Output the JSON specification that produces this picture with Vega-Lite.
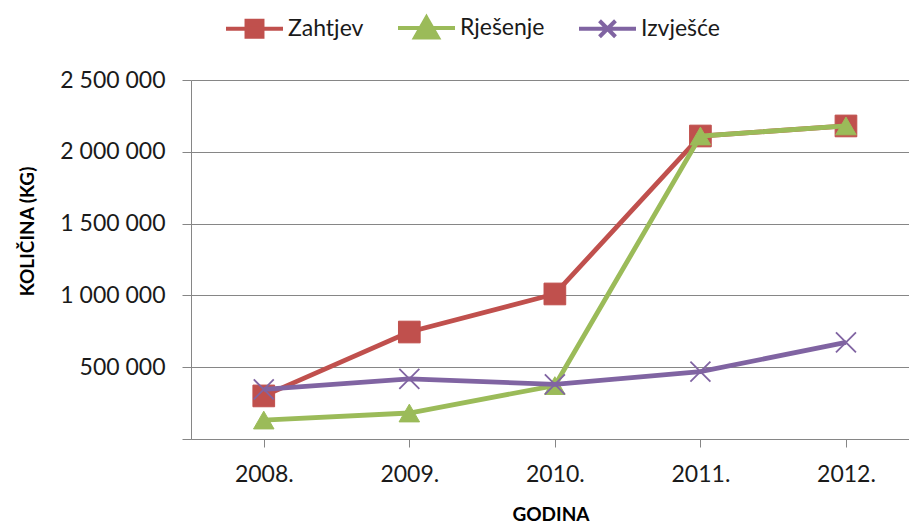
{
  "$schema": "https://vega.github.io/schema/vega-lite/v6.json",
  "width": 719,
  "height": 359,
  "autosize": "none",
  "padding": {"left": 191, "top": 80, "right": 0, "bottom": 87},
  "background": "white",
  "config": {
    "view": {"stroke": null},
    "font": "Lato",
    "axis": {
      "domainColor": "#868686",
      "tickColor": "#868686",
      "gridColor": "#868686",
      "labelColor": "#1a1a1a",
      "titleColor": "#000000",
      "labelFont": "Lato",
      "titleFont": "Lato",
      "labelFontSize": 23,
      "titleFontSize": 19,
      "titleFontWeight": "bold"
    }
  },
  "data": {
    "values": [
      {"year": 2008, "series": "Zahtjev", "value": 300000},
      {"year": 2009, "series": "Zahtjev", "value": 745000},
      {"year": 2010, "series": "Zahtjev", "value": 1010000},
      {"year": 2011, "series": "Zahtjev", "value": 2110000},
      {"year": 2012, "series": "Zahtjev", "value": 2180000},
      {"year": 2008, "series": "Rješenje", "value": 132000},
      {"year": 2009, "series": "Rješenje", "value": 181000},
      {"year": 2010, "series": "Rješenje", "value": 372000},
      {"year": 2011, "series": "Rješenje", "value": 2110000},
      {"year": 2012, "series": "Rješenje", "value": 2180000},
      {"year": 2008, "series": "Izvješće", "value": 345000},
      {"year": 2009, "series": "Izvješće", "value": 418000},
      {"year": 2010, "series": "Izvješće", "value": 381000},
      {"year": 2011, "series": "Izvješće", "value": 469000},
      {"year": 2012, "series": "Izvješće", "value": 673000}
    ]
  },
  "encoding": {
    "x": {
      "field": "year",
      "type": "quantitative",
      "scale": {"domain": [2007.5, 2012.44], "nice": false, "zero": false},
      "axis": {
        "values": [2008, 2009, 2010, 2011, 2012],
        "labelExpr": "datum.value + '.'",
        "grid": false,
        "tickSize": 8,
        "labelPadding": 16,
        "title": "GODINA",
        "titlePadding": 19,
        "labelFlush": false
      }
    },
    "y": {
      "field": "value",
      "type": "quantitative",
      "scale": {"domain": [0, 2500000], "nice": false},
      "axis": {
        "values": [0, 500000, 1000000, 1500000, 2000000, 2500000],
        "labelExpr": "datum.value == 0 ? '' : replace(format(datum.value, ','), regexp(',', 'g'), ' ')",
        "grid": true,
        "tickSize": 9,
        "labelPadding": 17,
        "title": "KOLIČINA (KG)",
        "titlePadding": 22,
        "titleY": 151
      }
    },
    "color": {
      "field": "series",
      "type": "nominal",
      "scale": {
        "domain": ["Zahtjev", "Rješenje", "Izvješće"],
        "range": ["#C0504D", "#9BBB59", "#8064A2"]
      },
      "legend": {
        "title": null,
        "orient": "none",
        "direction": "horizontal",
        "legendX": 33,
        "legendY": -83,
        "padding": 0,
        "labelFont": "Lato",
        "labelFontSize": 23,
        "labelColor": "#1a1a1a",
        "labelOffset": 3,
        "columnPadding": 26,
        "symbolSize": 3249,
        "symbolStrokeWidth": 4,
        "encode": {
          "symbols": {
            "update": {
              "shape": {"signal": "datum.value === 'Zahtjev' ? 'M-1,0H1M-0.28,-0.28H0.28V0.28H-0.28Z' : datum.value === 'Rješenje' ? 'M-1,0H1M0,-0.36L0.4,0.34H-0.4Z' : 'M-1,0H1M-0.28,-0.28L0.28,0.28M-0.28,0.28L0.28,-0.28'"},
              "fill": {"scale": "color", "field": "value"},
              "stroke": {"scale": "color", "field": "value"},
              "strokeWidth": {"value": 4},
              "opacity": {"value": 1}
            }
          }
        }
      }
    }
  },
  "layer": [
    {
      "transform": [{"filter": "datum.series === 'Zahtjev'"}],
      "layer": [
        {"mark": {"type": "line", "strokeWidth": 4.8}},
        {"mark": {"type": "point", "shape": "square", "filled": true, "size": 470, "opacity": 1, "stroke": "#C0504D", "strokeWidth": 1}}
      ]
    },
    {
      "transform": [{"filter": "datum.series === 'Rješenje'"}],
      "layer": [
        {"mark": {"type": "line", "strokeWidth": 4.8}},
        {"mark": {"type": "point", "shape": "triangle-up", "filled": true, "size": 420, "opacity": 1, "stroke": "#9BBB59", "strokeWidth": 1}}
      ]
    },
    {
      "transform": [{"filter": "datum.series === 'Izvješće'"}],
      "layer": [
        {"mark": {"type": "line", "strokeWidth": 4.8}},
        {"mark": {"type": "point", "shape": "M-1,-1L1,1M-1,1L1,-1", "filled": true, "size": 400, "opacity": 1, "stroke": "#8064A2", "strokeWidth": 1.8}}
      ]
    }
  ]
}
